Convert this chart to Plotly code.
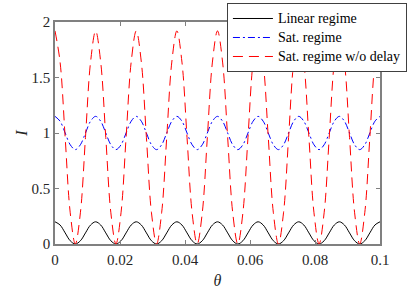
import numpy as np
import plotly.graph_objects as go

theta = np.linspace(0, 0.1, 65)

linear_regime = [
    0.20, 0.171, 0.10, 0.029, 0.00, 0.029, 0.10, 0.171,
    0.20, 0.171, 0.10, 0.029, 0.00, 0.029, 0.10, 0.171,
    0.20, 0.171, 0.10, 0.029, 0.00, 0.029, 0.10, 0.171,
    0.20, 0.171, 0.10, 0.029, 0.00, 0.029, 0.10, 0.171,
    0.20, 0.171, 0.10, 0.029, 0.00, 0.029, 0.10, 0.171,
    0.20, 0.171, 0.10, 0.029, 0.00, 0.029, 0.10, 0.171,
    0.20, 0.171, 0.10, 0.029, 0.00, 0.029, 0.10, 0.171,
    0.20, 0.171, 0.10, 0.029, 0.00, 0.029, 0.10, 0.171,
    0.20,
]

sat_regime = [
    1.15, 1.106, 1.00, 0.894, 0.85, 0.894, 1.00, 1.106,
    1.15, 1.106, 1.00, 0.894, 0.85, 0.894, 1.00, 1.106,
    1.15, 1.106, 1.00, 0.894, 0.85, 0.894, 1.00, 1.106,
    1.15, 1.106, 1.00, 0.894, 0.85, 0.894, 1.00, 1.106,
    1.15, 1.106, 1.00, 0.894, 0.85, 0.894, 1.00, 1.106,
    1.15, 1.106, 1.00, 0.894, 0.85, 0.894, 1.00, 1.106,
    1.15, 1.106, 1.00, 0.894, 0.85, 0.894, 1.00, 1.106,
    1.15, 1.106, 1.00, 0.894, 0.85, 0.894, 1.00, 1.106,
    1.15,
]

sat_no_delay = [
    1.92, 1.639, 0.96, 0.281, 0.00, 0.281, 0.96, 1.639,
    1.92, 1.639, 0.96, 0.281, 0.00, 0.281, 0.96, 1.639,
    1.92, 1.639, 0.96, 0.281, 0.00, 0.281, 0.96, 1.639,
    1.92, 1.639, 0.96, 0.281, 0.00, 0.281, 0.96, 1.639,
    1.92, 1.639, 0.96, 0.281, 0.00, 0.281, 0.96, 1.639,
    1.92, 1.639, 0.96, 0.281, 0.00, 0.281, 0.96, 1.639,
    1.92, 1.639, 0.96, 0.281, 0.00, 0.281, 0.96, 1.639,
    1.92, 1.639, 0.96, 0.281, 0.00, 0.281, 0.96, 1.639,
    1.92,
]

series_names = ["Linear regime", "Sat. regime", "Sat. regime w/o delay"]

x_ticks = [0, 0.02, 0.04, 0.06, 0.08, 0.1]
x_tick_labels = ["0", "0.02", "0.04", "0.06", "0.08", "0.1"]
y_ticks = [0, 0.5, 1, 1.5, 2]
y_tick_labels = ["0", "0.5", "1", "1.5", "2"]

FONT = "Liberation Serif, Times New Roman, serif"


def legend_name(s):
    return '<span style="font-size:14px">' + s + '</span>'


fig = go.Figure()
fig.add_trace(go.Scatter(x=theta, y=linear_regime, mode="lines", name=legend_name(series_names[0]),
                         line=dict(color="black", width=1, shape="spline")))
fig.add_trace(go.Scatter(x=theta, y=sat_regime, mode="lines", name=legend_name(series_names[1]),
                         line=dict(color="#0000ff", width=1, shape="spline", dash="7px,3px,2px,3px")))
fig.add_trace(go.Scatter(x=theta, y=sat_no_delay, mode="lines", name=legend_name(series_names[2]),
                         line=dict(color="#ff0000", width=1, shape="spline", dash="10px,6px")))

axis_common = dict(
    showline=True, linecolor="#808080", linewidth=1.5, mirror="ticks",
    ticks="inside", ticklen=4, tickcolor="#808080", tickwidth=1,
    showgrid=False, zeroline=False, automargin=True,
    tickfont=dict(family=FONT, size=15, color="#262626"),
)

fig.update_xaxes(range=[0, 0.1], tickvals=x_ticks, ticktext=x_tick_labels, ticklabelstandoff=1,
                 title=dict(text="<i>θ</i>", font=dict(family=FONT, size=16, color="#262626"), standoff=11),
                 **axis_common)
fig.update_yaxes(range=[0, 2], tickvals=y_ticks, ticktext=y_tick_labels,
                 title=dict(text="<i>I</i>", font=dict(family=FONT, size=16, color="#262626"), standoff=0),
                 **axis_common)

fig.update_layout(
    width=420, height=289,
    margin=dict(l=55, r=40, t=22, b=45, autoexpand=False),
    plot_bgcolor="white", paper_bgcolor="white",
    font=dict(family=FONT, color="#262626"),
    legend=dict(x=0.529, y=1.0856, xanchor="left", yanchor="top",
                bgcolor="white", bordercolor="#404040", borderwidth=1,
                font=dict(family=FONT, size=11, color="black"),
                tracegroupgap=0, itemwidth=40),
    showlegend=True,
)

fig.write_html("out.html", config={"displayModeBar": False},
               post_script="document.body.style.margin='0';")
